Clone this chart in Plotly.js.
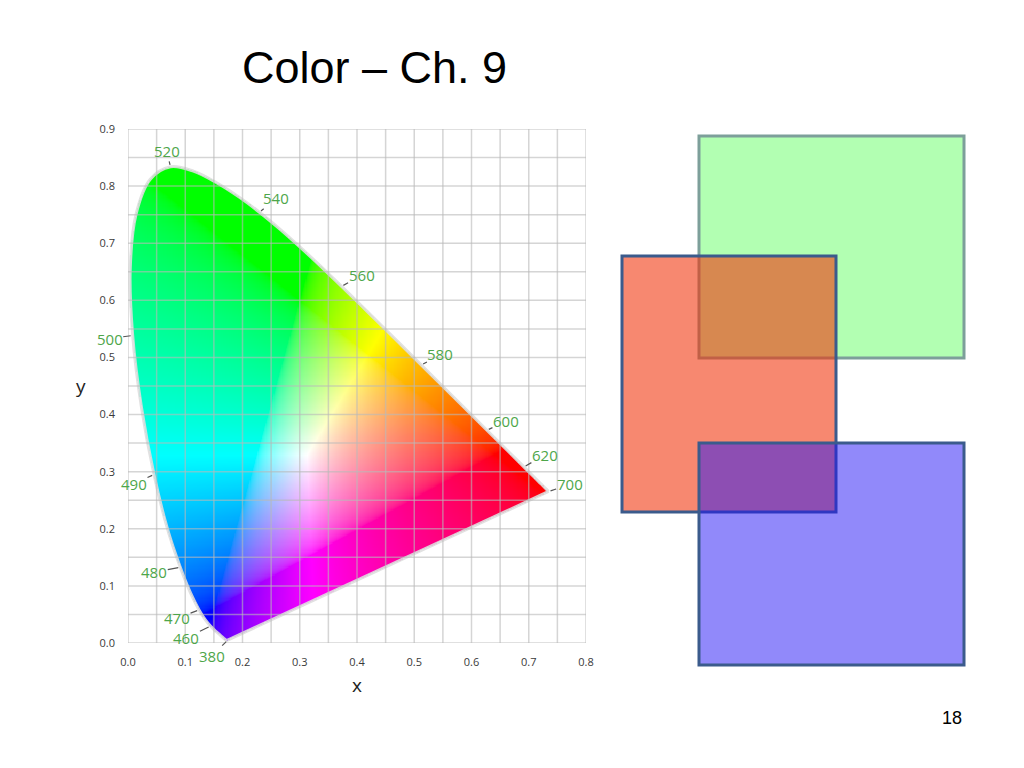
<!DOCTYPE html>
<html><head><meta charset="utf-8">
<script src="https://cdn.plot.ly/plotly-3.0.1.min.js"></script>
<style>html,body{margin:0;padding:0;background:#fff;}#chart{width:1024px;height:768px;}</style>
</head><body><div id="chart"></div>
<script>
// CIE 1931 spectral locus (wavelength nm, chromaticity x, y)
const wavelengths = [380,385,390,395,400,405,410,415,420,425,430,435,440,445,450,455,460,465,470,475,480,485,490,495,500,505,510,515,520,525,530,535,540,545,550,555,560,565,570,575,580,585,590,595,600,605,610,615,620,625,630,635,640,645,650,655,660,665,670,675,680,685,690,695,700];
const locusX = [0.1741,0.1740,0.1738,0.1736,0.1733,0.1730,0.1726,0.1721,0.1714,0.1703,0.1689,0.1669,0.1644,0.1611,0.1566,0.1510,0.1440,0.1355,0.1241,0.1096,0.0913,0.0687,0.0454,0.0235,0.0082,0.0039,0.0139,0.0389,0.0743,0.1142,0.1547,0.1929,0.2296,0.2658,0.3016,0.3373,0.3731,0.4087,0.4441,0.4788,0.5125,0.5448,0.5752,0.6029,0.6270,0.6482,0.6658,0.6801,0.6915,0.7006,0.7079,0.7140,0.7190,0.7230,0.7260,0.7283,0.7300,0.7311,0.7320,0.7327,0.7334,0.7340,0.7344,0.7346,0.7347];
const locusY = [0.0050,0.0050,0.0049,0.0049,0.0048,0.0048,0.0048,0.0048,0.0051,0.0058,0.0069,0.0086,0.0109,0.0138,0.0177,0.0227,0.0297,0.0399,0.0578,0.0868,0.1327,0.2007,0.2950,0.4127,0.5384,0.6548,0.7502,0.8120,0.8338,0.8262,0.8059,0.7816,0.7543,0.7243,0.6923,0.6589,0.6245,0.5896,0.5547,0.5202,0.4866,0.4544,0.4242,0.3965,0.3725,0.3514,0.3340,0.3197,0.3083,0.2993,0.2920,0.2859,0.2809,0.2770,0.2740,0.2717,0.2700,0.2689,0.2680,0.2673,0.2666,0.2660,0.2656,0.2654,0.2653];

// Labelled wavelengths
const labelWavelengths = [380,460,470,480,490,500,520,540,560,580,600,620,700];
// label placement (pixel offsets from locus point) - layout only
const labelDX = [-16,-24,-22,-26,-20,-23,-4,17,20,19,19,21,21];
const labelDY = [16,12,8,5,9,3,-16,-14,-11,-11,-9,-12,-7];

// Axis ticks
const xTickVals = [0,0.1,0.2,0.3,0.4,0.5,0.6,0.7,0.8];
const yTickVals = [0,0.1,0.2,0.3,0.4,0.5,0.6,0.7,0.8,0.9];

// Overlapping rectangles (slide units, pixels)
const rectNames = ['green','red','blue'];
const rectLeft = [699,622,699];
const rectRight = [964,836,964];
const rectTop = [136,256,443];
const rectBottom = [358,512,665];
const rectFill = ['rgba(0,255,0,0.30)','rgba(242,52,12,0.59)','rgba(35,19,245,0.50)'];
const rectLine = ['#7d9f9a','#3b5b8c','#3b5b8c'];

// ---- smooth outline of the locus for the colour mask (same idea as a spline line) ----
function smoothOutline(xs, ys, sub){
  const ox=[], oy=[], n=xs.length;
  for(let i=0;i<n-1;i++){
    const p0=Math.max(i-1,0), p3=Math.min(i+2,n-1);
    for(let s=0;s<sub;s++){
      const t=s/sub, t2=t*t, t3=t2*t;
      const f=(a,b,c,d)=>0.5*((2*b)+(-a+c)*t+(2*a-5*b+4*c-d)*t2+(-a+3*b-3*c+d)*t3);
      ox.push(f(xs[p0],xs[i],xs[i+1],xs[p3]));
      oy.push(f(ys[p0],ys[i],ys[i+1],ys[p3]));
    }
  }
  ox.push(xs[n-1]); oy.push(ys[n-1]);
  return [ox, oy];
}
const outline = smoothOutline(locusX, locusY, 8);

function inPoly(px, py, xs, ys){
  let inside=false;
  for(let i=0,j=xs.length-1;i<xs.length;j=i++){
    const xi=xs[i], yi=ys[i], xj=xs[j], yj=ys[j];
    if(((yi>py)!==(yj>py)) && (px < (xj-xi)*(py-yi)/(yj-yi)+xi)) inside=!inside;
  }
  return inside;
}
function gam(v){ return v<=0.0031308 ? 12.92*v : 1.055*Math.pow(v,1/2.4)-0.055; }
function xyToRGB(x,y){
  const X=x/y, Y=1, Z=(1-x-y)/y;
  let r= 3.2406*X-1.5372*Y-0.4986*Z;
  let g=-0.9689*X+1.8758*Y+0.0415*Z;
  let b= 0.0557*X-0.2040*Y+1.0570*Z;
  r=Math.max(r,0); g=Math.max(g,0); b=Math.max(b,0);
  const m=Math.max(r,g,b)||1;
  return [Math.round(255*gam(r/m)),Math.round(255*gam(g/m)),Math.round(255*gam(b/m))];
}
const step=0.002, nx=400, ny=450;
const z=[];
for(let j=0;j<ny;j++){
  const y=(j+0.5)*step;
  const row=[];
  for(let i=0;i<nx;i++){
    const x=(i+0.5)*step;
    if(inPoly(x,y,outline[0],outline[1])){
      const c=xyToRGB(x,y); row.push([c[0],c[1],c[2],1]);
    } else row.push([255,255,255,0]);
  }
  z.push(row);
}

const traces=[
  {type:'image', z:z, colormodel:'rgba', x0:step/2, dx:step, y0:step/2, dy:step, hoverinfo:'skip', xaxis:'x', yaxis:'y'},
  {type:'scatter', mode:'lines', x:locusX, y:locusY,
   line:{color:'rgba(222,222,222,0.9)', width:3, shape:'spline', smoothing:1}, hoverinfo:'skip', xaxis:'x', yaxis:'y'},
  {type:'scatter', mode:'lines', x:[locusX[locusX.length-1], locusX[0]], y:[locusY[locusY.length-1], locusY[0]],
   line:{color:'rgba(222,222,222,0.9)', width:3}, hoverinfo:'skip', xaxis:'x', yaxis:'y'},
  {type:'scatter', mode:'markers', x:[], y:[], xaxis:'x2', yaxis:'y2', hoverinfo:'skip'}
];

const shapes=[];
// grid lines over the diagram
for(let k=0;k<=16;k++){
  const v=k*0.05;
  shapes.push({type:'line', xref:'x', yref:'y', x0:v, x1:v, y0:0, y1:0.9, layer:'above', line:{color:'rgba(185,185,185,0.6)', width:1.5}});
}
for(let k=0;k<=18;k++){
  const v=k*0.05;
  shapes.push({type:'line', xref:'x', yref:'y', x0:0, x1:0.8, y0:v, y1:v, layer:'above', line:{color:'rgba(185,185,185,0.6)', width:1.5}});
}
for(let k=0;k<rectNames.length;k++){
  shapes.push({type:'rect', xref:'x2', yref:'y2', x0:rectLeft[k], x1:rectRight[k], y0:rectTop[k], y1:rectBottom[k],
    fillcolor:rectFill[k], line:{color:rectLine[k], width:3}, layer:'above'});
}

const annotations=[];
for(let k=0;k<labelWavelengths.length;k++){
  const idx=wavelengths.indexOf(labelWavelengths[k]);
  annotations.push({x:locusX[idx], y:locusY[idx], xref:'x', yref:'y', text:String(labelWavelengths[k]),
    showarrow:true, ax:labelDX[k], ay:labelDY[k], arrowhead:0, arrowwidth:1.2, arrowcolor:'#555', standoff:2,
    font:{family:'Open Sans, sans-serif', size:15, color:'#4ea64a'}, borderpad:0});
}
annotations.push({xref:'paper', yref:'paper', x:374.5/1024, y:1-68/768, text:'Color – Ch. 9', showarrow:false,
  xanchor:'center', yanchor:'middle', font:{family:'Liberation Sans, Arial, sans-serif', size:45, color:'#000'}});
annotations.push({xref:'paper', yref:'paper', x:952/1024, y:1-718/768, text:'18', showarrow:false,
  xanchor:'center', yanchor:'middle', font:{family:'Liberation Sans, Arial, sans-serif', size:18, color:'#000'}});
annotations.push({xref:'paper', yref:'paper', x:81/1024, y:1-386/768, text:'y', showarrow:false,
  xanchor:'center', yanchor:'middle', font:{family:'Open Sans, sans-serif', size:19, color:'#222'}});

const tickFont={family:'Open Sans, sans-serif', size:11, color:'#3a3a3a'};
const layout={
  width:1024, height:768, margin:{l:0,r:0,t:0,b:0}, paper_bgcolor:'#fff', plot_bgcolor:'rgba(0,0,0,0)',
  showlegend:false, hovermode:false,
  xaxis:{domain:[128/1024,586/1024], range:[0,0.8], tickvals:xTickVals, tickformat:'.1f', showgrid:false, zeroline:false,
    showline:false, ticks:'', ticklabelstandoff:11, tickfont:tickFont, anchor:'y', fixedrange:true,
    title:{text:'x', font:{family:'Open Sans, sans-serif', size:19, color:'#222'}, standoff:10}},
  yaxis:{domain:[(768-643)/768,(768-129)/768], range:[0,0.9], tickvals:yTickVals, tickformat:'.1f', showgrid:false, zeroline:false,
    showline:false, ticks:'', ticklabelstandoff:12, tickfont:tickFont, anchor:'x', scaleanchor:false, fixedrange:true},
  xaxis2:{domain:[0,1], range:[0,1024], anchor:'y2', visible:false, fixedrange:true},
  yaxis2:{domain:[0,1], range:[768,0], anchor:'x2', visible:false, fixedrange:true},
  shapes:shapes, annotations:annotations
};
Plotly.newPlot('chart', traces, layout, {displayModeBar:false, staticPlot:true});
</script></body></html>
